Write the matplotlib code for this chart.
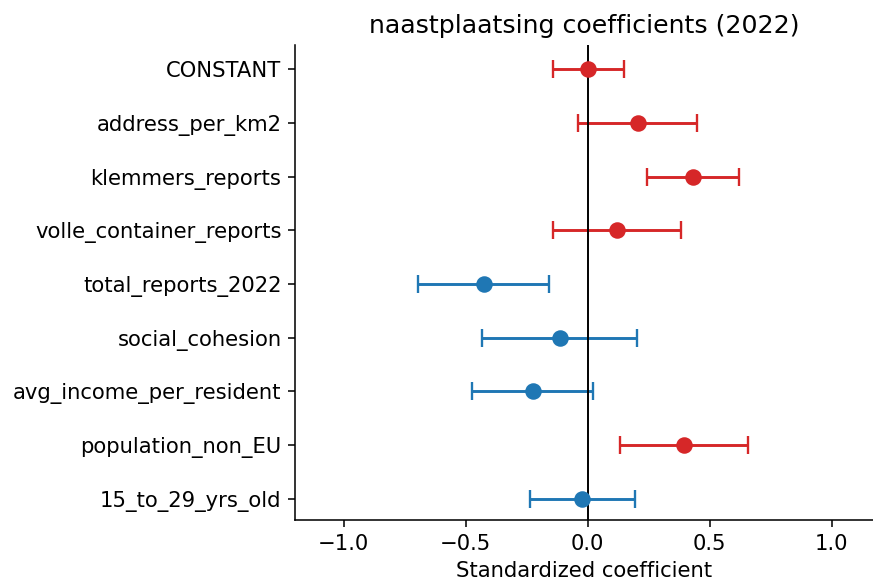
import matplotlib
matplotlib.use("Agg")
import matplotlib.pyplot as plt
import numpy as np

variables = ["CONSTANT", "address_per_km2", "klemmers_reports", "volle_container_reports",
             "total_reports_2022", "social_cohesion", "avg_income_per_resident",
             "population_non_EU", "15_to_29_yrs_old"]
coef = [0.0, 0.205, 0.432, 0.119, -0.426, -0.112, -0.226, 0.395, -0.024]
ci_low = [-0.143, -0.038, 0.245, -0.143, -0.695, -0.432, -0.476, 0.131, -0.237]
ci_high = [0.150, 0.450, 0.620, 0.381, -0.157, 0.201, 0.020, 0.658, 0.193]

plt.rcParams["font.size"] = 10.9

fig = plt.figure(figsize=(873/140, 585/140), dpi=140)
ax = fig.add_axes([0.338, 0.111, 0.662, 0.812])

n = len(variables)
ypos = np.arange(n)[::-1]
for i in range(n):
    c = "#d62728" if coef[i] >= 0 else "#1f77b4"
    ax.errorbar(coef[i], ypos[i],
                xerr=[[coef[i] - ci_low[i]], [ci_high[i] - coef[i]]],
                fmt="o", color=c, ecolor=c, markersize=7.5, capsize=4.5, elinewidth=1.5, capthick=1.2)

ax.axvline(0, color="black", linewidth=1)
ax.set_yticks(ypos)
ax.set_yticklabels(variables)
ax.set_xlim(-1.2, 1.17)
ax.set_ylim(-0.4, n - 1 + 0.45)
ax.set_xlabel("Standardized coefficient")
ax.set_title("naastplaatsing coefficients (2022)", fontsize=13)
ax.spines["top"].set_visible(False)
ax.spines["right"].set_visible(False)

fig.savefig("out.png", dpi=140)
